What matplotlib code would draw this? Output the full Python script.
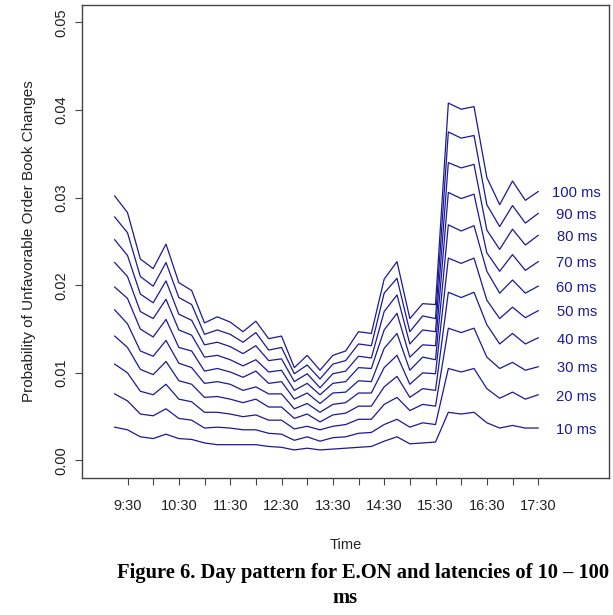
import numpy as np
import matplotlib
matplotlib.use("Agg")
import matplotlib.pyplot as plt

# time of day in minutes, one point every 15 min from 9:15 to 17:30
times = np.arange(9 * 60 + 15, 17 * 60 + 31, 15)

latency_labels = ["10 ms", "20 ms", "30 ms", "40 ms", "50 ms",
                  "60 ms", "70 ms", "80 ms", "90 ms", "100 ms"]

p10 = [0.0038, 0.0035, 0.0027, 0.0025, 0.0030, 0.0025, 0.0024, 0.0020, 0.0018, 0.0018,
       0.0018, 0.0018, 0.0016, 0.0015, 0.0012, 0.0014, 0.0012, 0.0013, 0.0014, 0.0015,
       0.0016, 0.0022, 0.0027, 0.0019, 0.0020, 0.0021, 0.0055, 0.0053, 0.0055, 0.0043,
       0.0037, 0.0040, 0.0037, 0.0037]
p20 = [0.0076, 0.0068, 0.0053, 0.0051, 0.0059, 0.0048, 0.0046, 0.0037, 0.0038, 0.0037,
       0.0035, 0.0035, 0.0031, 0.0030, 0.0023, 0.0027, 0.0022, 0.0026, 0.0027, 0.0031,
       0.0032, 0.0041, 0.0047, 0.0038, 0.0043, 0.0041, 0.0105, 0.0101, 0.0105, 0.0082,
       0.0071, 0.0078, 0.0070, 0.0075]
p30 = [0.0110, 0.0100, 0.0079, 0.0075, 0.0087, 0.0070, 0.0067, 0.0055, 0.0055, 0.0053,
       0.0050, 0.0052, 0.0046, 0.0046, 0.0036, 0.0039, 0.0035, 0.0039, 0.0041, 0.0047,
       0.0047, 0.0064, 0.0072, 0.0057, 0.0064, 0.0062, 0.0151, 0.0146, 0.0151, 0.0118,
       0.0105, 0.0112, 0.0103, 0.0107]
p40 = [0.0142, 0.0129, 0.0104, 0.0098, 0.0113, 0.0091, 0.0087, 0.0072, 0.0073, 0.0070,
       0.0066, 0.0070, 0.0061, 0.0061, 0.0048, 0.0053, 0.0044, 0.0052, 0.0054, 0.0062,
       0.0062, 0.0084, 0.0096, 0.0072, 0.0082, 0.0080, 0.0192, 0.0186, 0.0192, 0.0155,
       0.0133, 0.0145, 0.0133, 0.0140]
p50 = [0.0172, 0.0156, 0.0125, 0.0119, 0.0137, 0.0111, 0.0106, 0.0088, 0.0090, 0.0087,
       0.0080, 0.0084, 0.0076, 0.0076, 0.0059, 0.0065, 0.0055, 0.0064, 0.0066, 0.0077,
       0.0077, 0.0106, 0.0120, 0.0087, 0.0100, 0.0099, 0.0231, 0.0225, 0.0231, 0.0183,
       0.0162, 0.0175, 0.0163, 0.0171]
p60 = [0.0198, 0.0185, 0.0150, 0.0141, 0.0161, 0.0129, 0.0125, 0.0102, 0.0105, 0.0101,
       0.0095, 0.0102, 0.0088, 0.0090, 0.0070, 0.0077, 0.0065, 0.0077, 0.0078, 0.0091,
       0.0090, 0.0128, 0.0145, 0.0103, 0.0118, 0.0115, 0.0269, 0.0262, 0.0268, 0.0216,
       0.0191, 0.0206, 0.0191, 0.0199]
p70 = [0.0226, 0.0210, 0.0170, 0.0162, 0.0184, 0.0149, 0.0143, 0.0118, 0.0120, 0.0115,
       0.0108, 0.0115, 0.0101, 0.0103, 0.0080, 0.0088, 0.0075, 0.0088, 0.0090, 0.0106,
       0.0105, 0.0149, 0.0168, 0.0118, 0.0132, 0.0131, 0.0306, 0.0299, 0.0304, 0.0237,
       0.0216, 0.0235, 0.0217, 0.0227]
p80 = [0.0252, 0.0234, 0.0190, 0.0180, 0.0205, 0.0167, 0.0160, 0.0132, 0.0135, 0.0130,
       0.0122, 0.0131, 0.0114, 0.0116, 0.0090, 0.0099, 0.0083, 0.0099, 0.0102, 0.0119,
       0.0117, 0.0170, 0.0189, 0.0133, 0.0149, 0.0147, 0.0340, 0.0334, 0.0338, 0.0263,
       0.0241, 0.0264, 0.0246, 0.0257]
p90 = [0.0278, 0.0260, 0.0210, 0.0199, 0.0226, 0.0186, 0.0178, 0.0144, 0.0149, 0.0144,
       0.0135, 0.0146, 0.0126, 0.0129, 0.0099, 0.0109, 0.0093, 0.0110, 0.0114, 0.0133,
       0.0131, 0.0191, 0.0208, 0.0147, 0.0165, 0.0162, 0.0375, 0.0368, 0.0371, 0.0292,
       0.0267, 0.0291, 0.0271, 0.0282]
p100 = [0.0302, 0.0283, 0.0230, 0.0219, 0.0247, 0.0203, 0.0194, 0.0157, 0.0164, 0.0158,
        0.0147, 0.0159, 0.0139, 0.0142, 0.0106, 0.0120, 0.0103, 0.0120, 0.0125, 0.0147,
        0.0145, 0.0207, 0.0227, 0.0162, 0.0179, 0.0178, 0.0408, 0.0401, 0.0404, 0.0323,
        0.0292, 0.0319, 0.0297, 0.0307]

series = [p10, p20, p30, p40, p50, p60, p70, p80, p90, p100]

tick_times = np.arange(9 * 60 + 30, 17 * 60 + 31, 30)
tick_labels = ["%d:%02d" % (t // 60, t % 60) if t % 60 == 30 else "" for t in tick_times]

plt.rcParams["font.family"] = ["Liberation Sans", "DejaVu Sans"]

fig = plt.figure(figsize=(6.13, 6.15), dpi=100)
ax = fig.add_axes([0.1343, 0.2228, 0.8592, 0.7691])

line_color = "#1a1a96"
for vals, lab in zip(series, latency_labels):
    ax.plot(times, vals, color=line_color, lw=0.9)
    ax.text(1095, vals[-1] - 0.0002, lab, color=line_color, fontsize=10.6,
            ha="center", va="center")

ax.set_xlim(517.2, 1132.8)
ax.set_ylim(-0.002, 0.052)
ax.set_xticks(tick_times)
ax.set_xticklabels(tick_labels)
ax.set_yticks([0.0, 0.01, 0.02, 0.03, 0.04, 0.05])
ax.set_yticklabels(["0.00", "0.01", "0.02", "0.03", "0.04", "0.05"],
                   rotation=90, va="center")

for s in ax.spines.values():
    s.set_color("#444444")
    s.set_linewidth(1.0)
ax.tick_params(axis="both", length=5, width=0.8, color="#444444",
               labelsize=10.5, labelcolor="#222222")
ax.tick_params(axis="x", pad=10)
ax.tick_params(axis="y", pad=5)

ax.set_xlabel("Time", fontsize=10.5, color="#222222", labelpad=18)
ax.set_ylabel("Probability of Unfavorable Order Book Changes", fontsize=11,
              color="#222222", labelpad=13)

fig.text(0.191, 1 - 573 / 615, "Figure 6. Day pattern for E.ON and latencies of 10 \u2013 100",
         family=["Liberation Serif", "DejaVu Serif"], fontweight="bold", fontsize=14.8,
         ha="left", va="center")
fig.text(345 / 613, 1 - 598 / 615, "ms", family=["Liberation Serif", "DejaVu Serif"],
         fontweight="bold", fontsize=14.8, ha="center", va="center")

plt.savefig("out.png", dpi=100)
